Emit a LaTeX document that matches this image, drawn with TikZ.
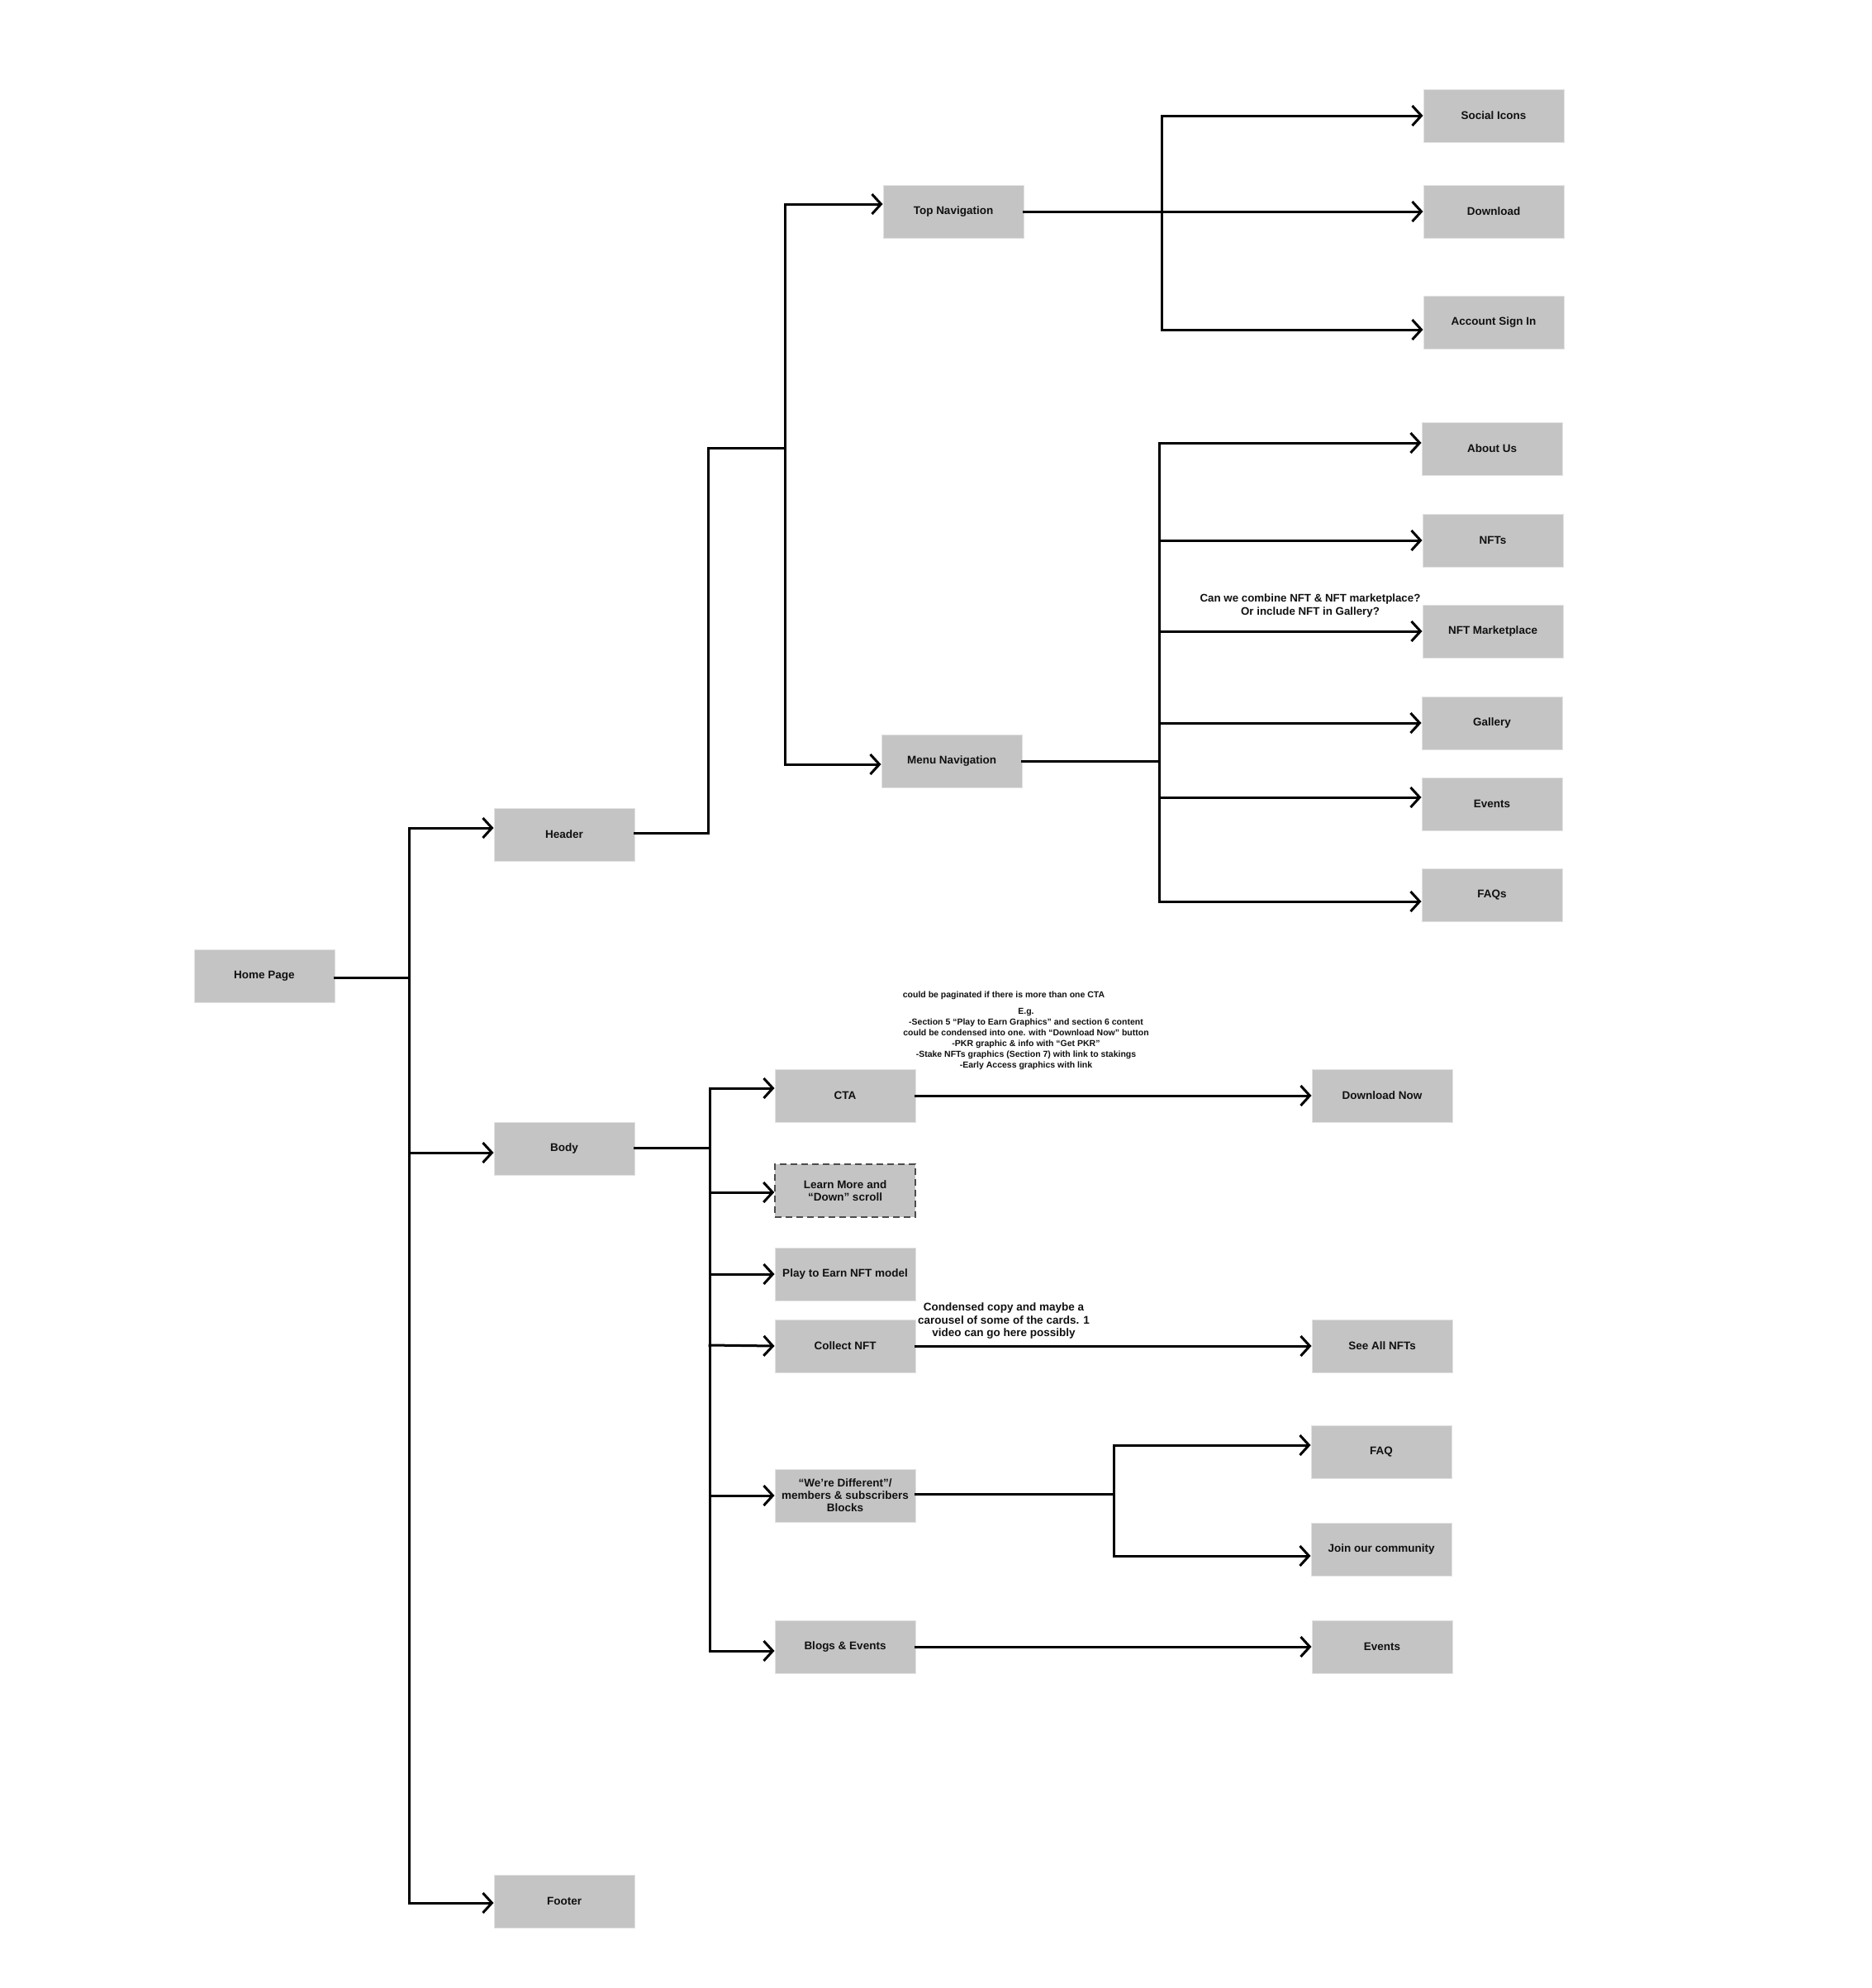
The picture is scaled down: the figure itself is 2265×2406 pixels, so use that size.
\documentclass[tikz,border=0pt]{standalone}
\usepackage{fontspec}
\setmainfont{Liberation Sans}
\usetikzlibrary{arrows.meta}
\definecolor{boxgray}{HTML}{C4C4C4}
\definecolor{edgegray}{HTML}{E2E2E2}
\definecolor{ink}{HTML}{111111}
\tikzset{
  box/.style={draw=edgegray, line width=1pt, fill=boxgray, minimum width=170pt, minimum height=64pt,
    inner sep=2pt, align=center, text=ink, font=\fontsize{13.5}{15}\selectfont\bfseries},
  dashbox/.style={box, draw=black!70, line width=1.5pt, dash pattern=on 8pt off 5pt},
  conn/.style={line width=3pt, draw=black, line cap=rect},
  arr/.style={conn, -{Straight Barb[length=11pt,width=24pt]}},
  note/.style={align=center, text=ink, inner sep=0pt},
}
\begin{document}
\begin{tikzpicture}[x=1pt,y=-1pt]
\useasboundingbox[fill=white] (0,0) rectangle (2265,2406);

% nodes
\node[box] (home) at (320,1181) {Home Page};
\node[box] (header) at (683,1010) {Header};
\node[box] (body) at (683,1390) {Body};
\node[box] (footer) at (683,2301) {Footer};

\node[box] (topnav) at (1154,256) {Top Navigation};
\node[box] (menunav) at (1152,921) {Menu Navigation};

\node[box] (social) at (1808,140) {Social Icons};
\node[box] (download) at (1808,256) {Download};
\node[box] (acct) at (1808,390) {Account Sign In};

\node[box] (about) at (1806,543) {About Us};
\node[box] (nfts) at (1807,654) {NFTs};
\node[box] (nftm) at (1807,764) {NFT Marketplace};
\node[box] (gallery) at (1806,875) {Gallery};
\node[box] (events1) at (1806,973) {Events};
\node[box] (faqs) at (1806,1083) {FAQs};

\node[box] (cta) at (1023,1326) {CTA};
\node[dashbox] (learn) at (1023,1441) {Learn More and\\“Down” scroll};
\node[box] (play) at (1023,1542) {Play to Earn NFT model};
\node[box] (collect) at (1023,1629) {Collect NFT};
\node[box] (diff) at (1023,1810) {“We’re Different”/\\members \& subscribers\\Blocks};
\node[box] (blogs) at (1023,1993) {Blogs \& Events};

\node[box] (dlnow) at (1673,1326) {Download Now};
\node[box] (seeall) at (1673,1629) {See All NFTs};
\node[box] (faq) at (1672,1757) {FAQ};
\node[box] (join) at (1672,1875) {Join our community};
\node[box] (events2) at (1673,1993) {Events};

% notes
\node[note, font=\fontsize{13.3}{16}\selectfont\bfseries] (nftnote) at (1586,733)
  {Can we combine NFT \& NFT marketplace?\\Or include NFT in Gallery?};
\node[note, font=\fontsize{10.5}{13}\selectfont\bfseries] (ctanote1) at (1215,1205)
  {could be paginated if there is more than one CTA};
\node[note, font=\fontsize{10.5}{13}\selectfont\bfseries] (ctanote2) at (1242,1257)
  {E.g.\\-Section 5 “Play to Earn Graphics” and section 6 content\\could be condensed into one. with “Download Now” button\\-PKR graphic \& info with “Get PKR”\\-Stake NFTs graphics (Section 7) with link to stakings\\-Early Access graphics with link};
\node[note, font=\fontsize{13.5}{15.5}\selectfont\bfseries] (collnote) at (1215,1599)
  {Condensed copy and maybe a\\carousel of some of the cards. 1\\video can go here possibly};

% bus coordinates
\coordinate (t0) at (495,1183);
\coordinate (t1) at (495,1002);
\coordinate (t2) at (495,1395);
\coordinate (t3) at (495,2303);

% home trunk
\draw[conn] (home.east |- t0) -- (t0);
\draw[conn] (t1) -- (t3);
\draw[arr] (t1) -- ([yshift=8pt]header.west);
\draw[arr] (t2) -- ([yshift=-5pt]body.west);
\draw[arr] (t3) -- ([yshift=-2pt]footer.west);

% header
\coordinate (h0) at (857,1008);
\coordinate (h1) at (857,542);
\coordinate (h2) at (950,542);
\coordinate (h3) at (950,247);
\coordinate (h4) at (950,925);
\draw[conn] (header.east |- h0) -- (h0) -- (h1) -- (h2);
\draw[conn] (h3) -- (h4);
\draw[arr] (h3) -- ([yshift=9pt]topnav.west);
\draw[arr] (h4) -- ([yshift=-4pt]menunav.west);

% top navigation
\coordinate (n1) at (1406,140);
\coordinate (n2) at (1406,399);
\draw[arr] (topnav.east) -- (download.west);
\draw[conn] (n1) -- (n2);
\draw[arr] (n1) -- (social.west);
\draw[arr] (n2) -- ([yshift=-9pt]acct.west);

% menu navigation
\coordinate (m0) at (1403,921);
\coordinate (m1) at (1403,536);
\coordinate (m2) at (1403,654);
\coordinate (m3) at (1403,764);
\coordinate (m4) at (1403,875);
\coordinate (m5) at (1403,965);
\coordinate (m6) at (1403,1091);
\draw[conn] (menunav.east |- m0) -- (m0);
\draw[conn] (m1) -- (m6);
\draw[arr] (m1) -- ([yshift=7pt]about.west);
\draw[arr] (m2) -- (nfts.west);
\draw[arr] (m3) -- (nftm.west);
\draw[arr] (m4) -- (gallery.west);
\draw[arr] (m5) -- ([yshift=8pt]events1.west);
\draw[arr] (m6) -- ([yshift=-8pt]faqs.west);

% body
\coordinate (b0) at (859,1389);
\coordinate (b1) at (859,1317);
\coordinate (b2) at (859,1443);
\coordinate (b3) at (859,1542);
\coordinate (b4) at (859,1628);
\coordinate (b5) at (859,1810);
\coordinate (b6) at (859,1998);
\draw[conn] (body.east |- b0) -- (b0);
\draw[conn] (b1) -- (b6);
\draw[arr] (b1) -- ([yshift=9pt]cta.west);
\draw[arr] (b2) -- ([yshift=-2pt]learn.west);
\draw[arr] (b3) -- (play.west);
\draw[arr] (b4) -- (collect.west);
\draw[arr] (b5) -- (diff.west);
\draw[arr] (b6) -- ([yshift=-5pt]blogs.west);

\draw[arr] (cta.east) -- (dlnow.west);
\draw[arr] (collect.east) -- (seeall.west);
\draw[arr] (blogs.east) -- (events2.west);

% different
\coordinate (d0) at (1348,1808);
\coordinate (d1) at (1348,1749);
\coordinate (d2) at (1348,1883);
\draw[conn] (diff.east |- d0) -- (d0);
\draw[conn] (d1) -- (d2);
\draw[arr] (d1) -- ([yshift=8pt]faq.west);
\draw[arr] (d2) -- ([yshift=-8pt]join.west);
\end{tikzpicture}
\end{document}
